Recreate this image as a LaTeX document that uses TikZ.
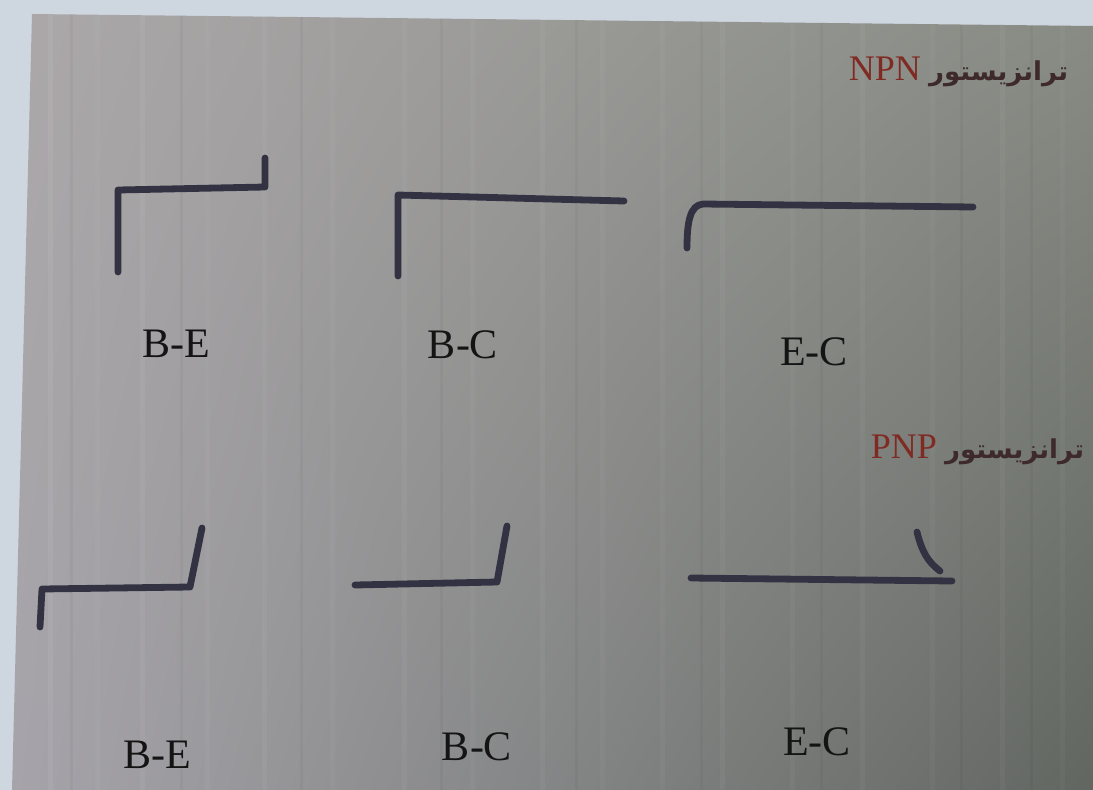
\documentclass[tikz,border=0pt]{standalone}
\usepackage{fontspec}
\setmainfont{Liberation Serif}
\newfontfamily\arabicfont[Script=Arabic]{DejaVu Sans}
\TeXXeTstate=1
\usetikzlibrary{shadings}

\definecolor{paper}{RGB}{206,214,224}
\definecolor{panelUL}{RGB}{172,168,170}
\definecolor{panelUR}{RGB}{136,140,132}
\definecolor{panelLL}{RGB}{166,164,170}
\definecolor{panelLR}{RGB}{98,102,97}
\definecolor{tracecol}{RGB}{50,50,66}
\definecolor{titlered}{RGB}{128,42,36}
\definecolor{titledark}{RGB}{62,42,42}

\begin{document}
\begin{tikzpicture}[x=1pt,y=-1pt,
  tracepath/.style={draw=tracecol, line width=6.8pt, line cap=round, line join=round},
  curvelabel/.style={font=\fontsize{42}{48}\selectfont, text=black!92, inner sep=0pt, anchor=base},
  titlelatin/.style={font=\fontsize{36}{42}\selectfont, text=titlered, inner sep=0pt, anchor=base east},
  titlefa/.style={font=\arabicfont\bfseries\fontsize{26}{31}\selectfont, text=titledark, inner sep=0pt, anchor=base west},
  streak/.style={fill=white}
]
\useasboundingbox (0,0) rectangle (1093,790);

% paper around the screen
\fill[paper] (0,0) rectangle (1093,790);

% the screen itself
\shade[upper left=panelUL, upper right=panelUR, lower left=panelLL, lower right=panelLR]
  (32,14) -- (1093,26) -- (1093,790) -- (12,790) -- cycle;

% faint vertical scan streaks
\begin{scope}
  \clip (32,14) -- (1093,26) -- (1093,790) -- (12,790) -- cycle;
  \foreach \x/\o in {48/0.06, 95/0.03, 140/0.05, 205/0.03, 262/0.04, 330/0.03,
                     402/0.04, 470/0.03, 540/0.04, 600/0.03, 660/0.03, 720/0.04,
                     790/0.03, 860/0.04, 930/0.03, 1000/0.04, 1060/0.03}
    \fill[streak, opacity=\o] (\x,0) rectangle ++(5,790);
  \foreach \x/\o in {70/0.03, 180/0.03, 300/0.03, 440/0.03, 575/0.03, 700/0.03,
                     820/0.03, 960/0.03, 1030/0.03}
    \fill[black, opacity=\o] (\x,0) rectangle ++(3,790);
\end{scope}

% NPN traces
\draw[tracepath] (118,272) -- (118,190) -- (265,187) -- (265,158);
\draw[tracepath] (398,276) -- (398,195) -- (624,201);
\draw[tracepath] (687,248) .. controls (687,222) and (690,205) .. (703,204) -- (973,207);

% PNP traces
\draw[tracepath] (40,627) -- (42,589) -- (190,587) -- (202,528);
\draw[tracepath] (355,585) -- (497,582) -- (507,526);
\draw[tracepath] (691,578) -- (952,581);
\draw[tracepath] (917,532) .. controls (922,552) and (928,562) .. (940,571);

% junction labels
\node[curvelabel] (npnbe) at (176,357) {B-E};
\node[curvelabel] (npnbc) at (463,358) {B-C};
\node[curvelabel] (npnec) at (814,365) {E-C};
\node[curvelabel] (pnpbe) at (157,768) {B-E};
\node[curvelabel] (pnpbc) at (477,760) {B-C};
\node[curvelabel] (pnpec) at (817,755) {E-C};

% titles
\node[titlelatin] (npn) at (921,80) {NPN};
\node[titlefa] (npnfa) at (929,80) {\beginR ترانزیستور\endR};
\node[titlelatin] (pnp) at (937,458) {PNP};
\node[titlefa] (pnpfa) at (945,458) {\beginR ترانزیستور\endR};
\end{tikzpicture}
\end{document}
